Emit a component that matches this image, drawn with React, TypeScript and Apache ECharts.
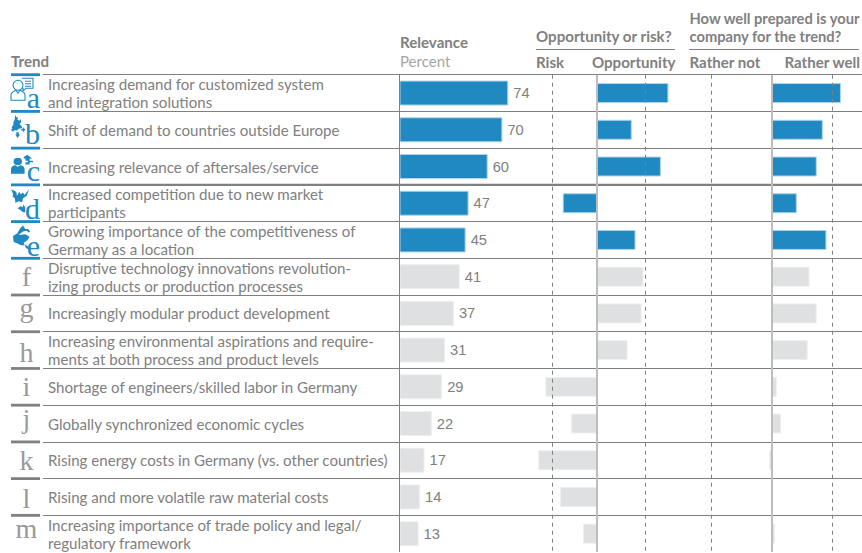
import React, { useEffect, useRef } from "react";
import * as echarts from "echarts";

const trends = [
  "Increasing demand for customized system\nand integration solutions",
  "Shift of demand to countries outside Europe",
  "Increasing relevance of aftersales/service",
  "Increased competition due to new market\nparticipants",
  "Growing importance of the competitiveness of\nGermany as a location",
  "Disruptive technology innovations revolution-\nizing products or production processes",
  "Increasingly modular product development",
  "Increasing environmental aspirations and require-\nments at both process and product levels",
  "Shortage of engineers/skilled labor in Germany",
  "Globally synchronized economic cycles",
  "Rising energy costs in Germany (vs. other countries)",
  "Rising and more volatile raw material costs",
  "Increasing importance of trade policy and legal/\nregulatory framework",
];
const letters = ["a", "b", "c", "d", "e", "f", "g", "h", "i", "j", "k", "l", "m"];
const relevance = [74, 70, 60, 47, 45, 41, 37, 31, 29, 22, 17, 14, 13];
const opportunity = [1.52, 0.74, 1.36, -0.73, 0.82, 0.99, 0.95, 0.65, -1.1, -0.55, -1.25, -0.79, -0.3];
const preparedness = [1.14, 0.84, 0.74, 0.41, 0.9, 0.62, 0.74, 0.59, 0.08, 0.15, -0.05, 0, 0.05];
const opportunityGuides = [-0.96, 1.03];
const preparednessGuides = [-1, 1];
const highlightedRows = 5;

// Layout only: distance from a row's top rule to the baseline of its letter.
const letterBaselines = [34, 33, 33, 34.6, 34.7, 28, 22, 30, 28, 23, 28, 29, 23];

const BLUE = "#2089c2";
const BLUE_EDGE = "#aed4ea";
const GREY = "#dfe0e1";
const GREY_EDGE = "#eeeff0";
const RULE = "#808080";
const TEXT = "#808080";
const LATO = "Lato, sans-serif";

const TOP = 74.7;
const STEP = 36.72;
const rowTop = (i: number) => TOP + STEP * i;

echarts.graphic.registerShape(
  "iconA",
  echarts.graphic.extendPath(
    "M7 2a5 5 0 1 1-0.01 0zM0 22v-5c0-3 3-4 5-5l2 3l2-3c2 1 5 2 5 5v5zM11 0h11v10h-7l-3 3v-3h-1M14 3h6M14 5.5h6M14 8h6",
    {}
  )
);
echarts.graphic.registerShape(
  "iconB",
  echarts.graphic.extendPath(
    "M7 0l2 3l2-1l0 4l3 1l2-2l1 4l-3 2l3 2l2 3l-6 1l-3 2l-5-1l-4-3l3-3l0-3l2-3zM0 18l4-3l0 2h3v2h-3v2zM24 18l-4-3v2h-3v2h3v2zM9 21h4v3h2l-4 4l-4-4h2z",
    {}
  )
);
echarts.graphic.registerShape(
  "iconC",
  echarts.graphic.extendPath(
    "M8 4a5 5 0 1 1 0 10a5 5 0 1 1 0-10zM0 25v-6c0-3 3-5 5-5l3 2l3-2c2 0 5 2 5 5v6zM19 0l6 5h-3v3h4v2h-4v3h-5v-3h3v-2h-3v-3h-2v-2z",
    {}
  )
);
echarts.graphic.registerShape(
  "iconD",
  echarts.graphic.extendPath(
    "M0 0l7 3l1 5l3-5l2 3l3-2l2 3l6-7l-3 8l-5 3l-1 5l-5-1l-4 2l-1-6l-3-2l1-3zM9 24l3-3l4 1v-3l3 3v7l-4-1l-2-2z",
    {}
  )
);
echarts.graphic.registerShape(
  "iconE",
  echarts.graphic.extendPath(
    "M10 3l4-3l3 4l4 0l3 3l-2 1l-3-2l-5 1l-5 3l-3-1zM0 12l8-4l1 3l8-1l6 3l-3 4l-5 3l1 3h-5l-4-2l-6-2zM16 22l5 2l2 4l-5-2z",
    {}
  )
);
const icons = [
  { type: "iconA", x: 11, dy: 3.5, scaleX: 1, scaleY: 1, style: { fill: "none", stroke: BLUE, lineWidth: 1.1 } },
  { type: "iconB", x: 11, dy: 3.5, scaleX: 0.6, scaleY: 0.82, style: { fill: BLUE } },
  { type: "iconC", x: 11, dy: 6.5, scaleX: 0.85, scaleY: 0.76, style: { fill: BLUE } },
  { type: "iconD", x: 11, dy: 4.5, scaleX: 0.75, scaleY: 0.8, style: { fill: BLUE } },
  { type: "iconE", x: 13, dy: 4, scaleX: 0.72, scaleY: 0.86, style: { fill: BLUE } },
];

const barData = (values: number[], firstHighlighted: number) =>
  values.map((value, i) => ({
    value,
    itemStyle: {
      color: i < firstHighlighted ? BLUE : GREY,
      borderColor: i < firstHighlighted ? BLUE_EDGE : GREY_EDGE,
      borderWidth: 1,
    },
  }));

const guideLines = (values: number[], color: string, width: number, type: any) => ({
  silent: true,
  symbol: "none",
  animation: false,
  label: { show: false },
  emphasis: { disabled: true },
  lineStyle: { color, width, type, opacity: 1 },
  data: values.map((xAxis) => ({ xAxis })),
});

const text = (x: number, y: number, value: string, style: any = {}) => ({
  type: "text",
  x,
  y,
  silent: true,
  style: {
    text: value,
    fill: TEXT,
    font: `700 15.1px ${LATO}`,
    textVerticalAlign: "middle",
    ...style,
  },
});

const rule = (x1: number, x2: number, y: number, stroke: any, lineWidth: number) => ({
  type: "line",
  silent: true,
  shape: { x1, y1: y, x2, y2: y },
  style: { stroke, lineWidth },
});

function buildGraphics() {
  const smallHead = { font: `700 14.7px ${LATO}` };
  const out: any[] = [
    text(11, 60.5, "Trend"),
    text(400, 42, "Relevance"),
    text(400, 60.5, "Percent", { fill: "#a6a6a6", font: `400 15px ${LATO}` }),
    text(536, 35.5, "Opportunity or risk?"),
    rule(536, 675, 49.5, RULE, 1),
    text(536, 62, "Risk"),
    text(675.5, 62, "Opportunity", { textAlign: "right" }),
    text(689.5, 18, "How well prepared is your", smallHead),
    text(689.5, 35.5, "company for the trend?", smallHead),
    rule(689, 859, 49.5, RULE, 1),
    text(689.5, 62, "Rather not"),
    text(860, 62, "Rather well", { textAlign: "right" }),
    rule(43, 862, rowTop(3), RULE, 2),
  ];
  letters.forEach((letter, i) => {
    const blue = i < highlightedRows;
    const blueRule = i <= highlightedRows;
    const color = blue ? BLUE : "#9a9a9a";
    out.push(rule(11, 40, rowTop(i), blueRule ? BLUE : RULE, 2.8));
    if (blueRule) {
      out.push({
        type: "line",
        silent: true,
        shape: { x1: 43, y1: rowTop(i), x2: 190, y2: rowTop(i) },
        style: {
          lineWidth: i === 3 ? 2 : 1,
          stroke: new echarts.graphic.LinearGradient(0, 0, 1, 0, [
            { offset: 0, color: BLUE },
            { offset: 0.6, color: BLUE },
            { offset: 1, color: RULE },
          ]),
        },
      });
    }
    if (blue) {
      const { dy, ...icon } = icons[i];
      out.push({ ...icon, silent: true, y: rowTop(i) + dy });
    }
    out.push(
      text(blue ? 40 : 26.5, rowTop(i) + letterBaselines[i] - (blue ? 11 : 9.5), letter, {
        fill: color,
        font: `400 ${blue ? 30 : 28}px "Liberation Serif", serif`,
        textAlign: blue ? "right" : "center",
      })
    );
  });
  return out;
}

const valueAxis = (gridIndex: number, min: number, max: number) => ({
  type: "value",
  gridIndex,
  min,
  max,
  show: false,
});
const categoryAxis = (gridIndex: number) => ({
  type: "category",
  gridIndex,
  data: trends,
  inverse: true,
  show: false,
});

export default function App() {
  const ref = useRef<HTMLDivElement>(null);
  useEffect(() => {
    const chart = echarts.init(ref.current!, undefined, { renderer: "svg" });
    const gridBase = { top: TOP, height: STEP * 13, outerBoundsMode: "none" };
    chart.setOption({
      animation: false,
      backgroundColor: "#ffffff",
      textStyle: { fontFamily: LATO },
      grid: [
        { left: 43, width: 819, ...gridBase },
        { left: 399.5, width: 147, ...gridBase },
        { left: 503, width: 188, ...gridBase },
        { left: 651, width: 242, ...gridBase },
      ],
      xAxis: [valueAxis(0, 0, 1), valueAxis(1, 0, 100), valueAxis(2, -2, 2), valueAxis(3, -2, 2)],
      yAxis: [
        {
          type: "category",
          gridIndex: 0,
          data: trends,
          inverse: true,
          axisLine: { show: false },
          axisTick: { show: false },
          axisLabel: {
            show: true,
            inside: true,
            margin: 5,
            color: TEXT,
            fontFamily: LATO,
            fontSize: 15.1,
            lineHeight: 18,
            interval: 0,
          },
          splitLine: {
            show: true,
            showMaxLine: false,
            lineStyle: { color: RULE, width: 1 },
          },
        },
        categoryAxis(1),
        categoryAxis(2),
        categoryAxis(3),
      ],
      series: [
        {
          type: "bar",
          name: "Relevance",
          xAxisIndex: 1,
          yAxisIndex: 1,
          data: barData(relevance, highlightedRows),
          barWidth: 25,
          label: {
            show: true,
            position: "right",
            distance: 5,
            color: TEXT,
            fontFamily: "Liberation Sans, Arial, sans-serif",
            fontSize: 14.7,
          },
          markLine: guideLines([0], RULE, 1, "solid"),
          z: 3,
        },
        {
          type: "bar",
          name: "Opportunity or risk",
          xAxisIndex: 2,
          yAxisIndex: 2,
          data: barData(opportunity, highlightedRows),
          barWidth: 20,
          markLine: guideLines(opportunityGuides, RULE, 1, [4, 4]),
          z: 3,
        },
        {
          type: "bar",
          name: "Preparedness",
          xAxisIndex: 3,
          yAxisIndex: 3,
          data: barData(preparedness, highlightedRows),
          barWidth: 20,
          markLine: guideLines(preparednessGuides, RULE, 1, [4, 4]),
          z: 3,
        },
        {
          type: "line",
          name: "Opportunity zero",
          xAxisIndex: 2,
          yAxisIndex: 2,
          data: [],
          markLine: guideLines([0], "#bdbdbd", 2, "solid"),
          z: 5,
        },
        {
          type: "line",
          name: "Preparedness zero",
          xAxisIndex: 3,
          yAxisIndex: 3,
          data: [],
          markLine: guideLines([0], "#bdbdbd", 2, "solid"),
          z: 5,
        },
      ],
      graphic: buildGraphics(),
    });
    return () => chart.dispose();
  }, []);
  return (
    <div
      ref={ref}
      style={{ position: "fixed", left: 0, top: 0, width: 862, height: 553 }}
    />
  );
}
